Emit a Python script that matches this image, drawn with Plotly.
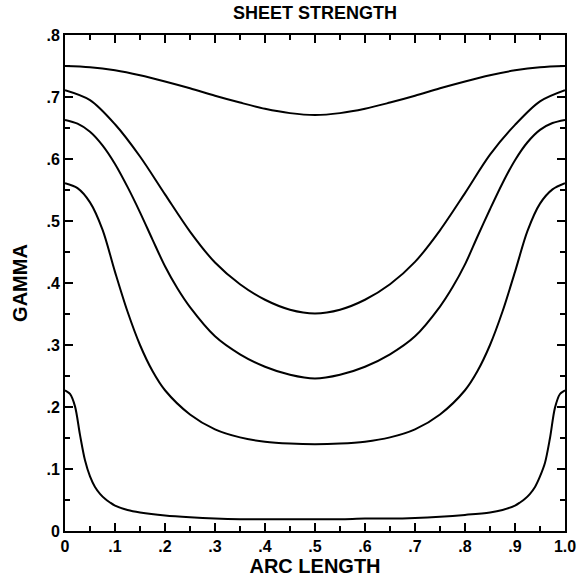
import plotly.graph_objects as go

# ---------------- data ----------------
x1 = [0, .05, .1, .15, .2, .25, .3, .35, .4, .45, .5,
      .55, .6, .65, .7, .75, .8, .85, .9, .95, 1.0]
y1 = [.750, .748, .743, .735, .725, .714, .702, .691, .681, .674, .671,
      .674, .681, .691, .702, .714, .725, .735, .743, .748, .750]

x2 = [0, .05, .1, .15, .2, .25, .3, .35, .4, .45, .5,
      .55, .6, .65, .7, .75, .8, .85, .9, .95, 1.0]
y2 = [.711, .695, .656, .604, .543, .483, .433, .398, .373, .357, .351,
      .357, .373, .398, .434, .485, .545, .607, .655, .693, .711]

x3 = [0, .025, .05, .075, .1, .125, .15, .175, .2, .225, .25, .3, .35, .4, .45, .5,
      .55, .6, .65, .7, .75, .775, .8, .825, .85, .875, .9, .925, .95, .975, 1.0]
y3 = [.663, .657, .644, .622, .592, .555, .514, .470, .427, .391, .361, .314, .285, .265, .252, .246,
      .252, .265, .285, .314, .362, .393, .430, .475, .519, .561, .598, .627, .647, .658, .663]

x4 = [0, .025, .05, .075, .1, .125, .15, .175, .2, .25, .3, .35, .4, .45, .5,
      .55, .6, .65, .7, .75, .8, .825, .85, .875, .9, .925, .95, .975, 1.0]
y4 = [.561, .553, .530, .486, .418, .354, .300, .258, .227, .188, .164, .151, .144, .141, .140,
      .141, .144, .151, .164, .188, .227, .258, .300, .354, .418, .484, .528, .551, .561]

x5 = [0, .01, .02, .03, .04, .05, .06, .07, .08, .09, .1, .125, .15, .2, .25, .3, .35, .4, .45, .5,
      .55, .6, .65, .7, .75, .8, .85, .875, .9, .91, .92, .93, .94, .95, .96, .97, .98, .99, 1.0]
y5 = [.227, .221, .201, .155, .114, .088, .071, .060, .052, .046, .041, .034, .030, .025, .022, .020, .019, .019, .019, .019,
      .019, .020, .020, .021, .023, .026, .030, .034, .041, .046, .052, .060, .071, .088, .110, .150, .199, .221, .227]

series = [(x1, y1), (x2, y2), (x3, y3), (x4, y4), (x5, y5)]

x_tickvals = [0, .1, .2, .3, .4, .5, .6, .7, .8, .9, 1.0]
x_ticktext = ["0", ".1", ".2", ".3", ".4", ".5", ".6", ".7", ".8", ".9", "1.0"]
y_tickvals = [0, .1, .2, .3, .4, .5, .6, .7, .8]
y_ticktext = ["0", ".1", ".2", ".3", ".4", ".5", ".6", ".7", ".8"]

title_text = "SHEET STRENGTH"
x_title = "ARC LENGTH"
y_title = "GAMMA"

# ---------------- figure ----------------
FONT = "Liberation Sans"
fig = go.Figure()
for xs, ys in series:
    fig.add_trace(go.Scatter(x=xs, y=ys, mode="lines",
                             line=dict(color="black", width=2, shape="spline", smoothing=0.9),
                             showlegend=False, hoverinfo="skip"))

axis_common = dict(
    showgrid=False, zeroline=False, automargin=False,
    showline=True, linecolor="black", linewidth=2, mirror="ticks",
    ticks="inside", ticklen=8, tickwidth=1.5, tickcolor="black",
    tickfont=dict(family=FONT, size=16, color="black", weight="bold"),
    minor=dict(ticks="inside", ticklen=5, tickwidth=1.5, tickcolor="black"),
)

fig.update_xaxes(range=[0, 1.0], tickvals=x_tickvals, ticktext=x_ticktext,
                 minor_dtick=0.05,
                 title=dict(text="<b>" + x_title + "</b>", font=dict(family=FONT, size=20, color="black"), standoff=2),
                 **axis_common)
fig.update_yaxes(range=[0, 0.8], tickvals=y_tickvals, ticktext=y_ticktext,
                 minor_dtick=0.05,
                 title=dict(text="<b>" + y_title + "</b>", font=dict(family=FONT, size=20, color="black"), standoff=13),
                 **axis_common)

fig.update_layout(
    width=577, height=578,
    margin=dict(l=65, r=12, t=35, b=47),
    paper_bgcolor="white", plot_bgcolor="white",
    title=dict(text="<b>" + title_text + "</b>", x=0.546, xanchor="center", y=0.978, yanchor="middle",
               font=dict(family=FONT, size=18, color="black")),
)

fig.write_html("out.html")
